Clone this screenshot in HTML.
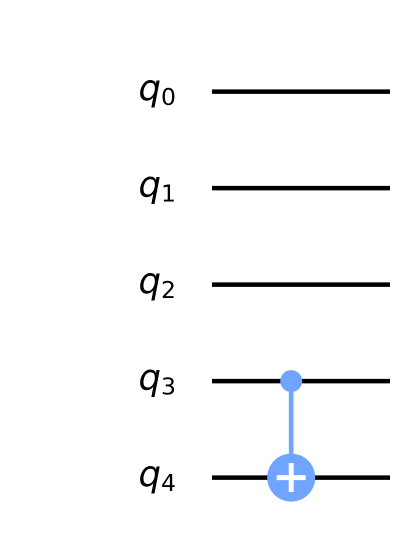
<!DOCTYPE html>
<html>
<head>
<meta charset="utf-8">
<style>
html,body{margin:0;padding:0;background:#fff;width:412px;height:551px;overflow:hidden}
svg{display:block}
text{font-family:"DejaVu Sans",sans-serif;fill:#000}
</style>
</head>
<body>
<svg id="circuit" width="412" height="551" viewBox="0 0 412 551" xmlns="http://www.w3.org/2000/svg"></svg>
<script>
const qubits = ['0', '1', '2', '3', '4'];
const controlQubits = [3];
const targetQubits = [4];
const gateColumns = [0.5];

const NS = 'http://www.w3.org/2000/svg';
const svg = document.getElementById('circuit');
const wireX0 = 212, wireX1 = 390;
const yFor = i => 91.6 + i * 96.5;
const xFor = c => wireX0 + c * (wireX1 - wireX0) - 9.8;
const color = '#6fa4ff';

function make(tag, attrs, parent) {
  const el = document.createElementNS(NS, tag);
  for (const k in attrs) el.setAttribute(k, attrs[k]);
  (parent || svg).appendChild(el);
  return el;
}

qubits.forEach((q, i) => {
  const y = yFor(i);
  const wire = make('line', {x1: wireX0, x2: wireX1, y1: y, y2: y, stroke: '#000', 'stroke-width': 4.5});
  
  

  const label = make('text', {x: 138.5, y: y + 8.6, 'font-size': 35.5});
  
  
  const main = make('tspan', {'font-style': 'oblique'}, label);
  main.textContent = 'q';
  const sub = make('tspan', {'font-size': 23.5, dy: 5}, label);
  sub.textContent = q;
});

gateColumns.forEach((c, g) => {
  const x = xFor(c);
  const yc = yFor(controlQubits[g]);
  const yt = yFor(targetQubits[g]);

  const link = make('line', {x1: x, x2: x, y1: yc, y2: yt, stroke: color, 'stroke-width': 4.7});
  
  

  const ctrl = make('circle', {cx: x, cy: yc, r: 11, fill: color});
  
  

  const tgt = make('circle', {cx: x, cy: yt, r: 24, fill: color});
  
  

  const plusH = make('line', {x1: x - 14.5, x2: x + 14.5, y1: yt, y2: yt, stroke: '#fff', 'stroke-width': 5});
  
  

  const plusV = make('line', {x1: x, x2: x, y1: yt - 14.5, y2: yt + 14.5, stroke: '#fff', 'stroke-width': 5});
  
  
});
</script>
</body>
</html>
